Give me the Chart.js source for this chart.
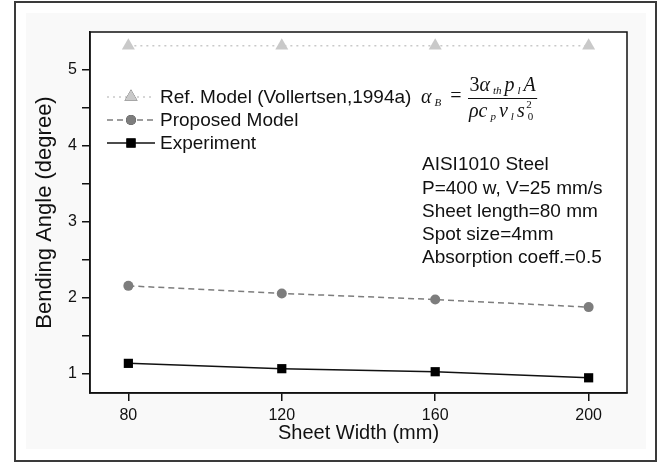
<!DOCTYPE html>
<html>
<head>
<meta charset="utf-8">
<script src="https://cdn.jsdelivr.net/npm/chart.js@4.4.0/dist/chart.umd.min.js"></script>
<style>
  html, body { margin: 0; padding: 0; background: #fff; }
  #wrap { width: 661px; height: 463px; position: relative; }
</style>
</head>
<body>
<div id="wrap"><canvas id="chart"></canvas></div>
<script>
// ===== datos =====
const sheetWidths = [80, 120, 160, 200];
const refModel = [5.32, 5.32, 5.32, 5.32];
const proposedModel = [2.16, 2.06, 1.98, 1.88];
const experiment = [1.14, 1.07, 1.03, 0.95];

const xTicks = [80, 120, 160, 200];
const yTicks = [1, 1.5, 2, 2.5, 3, 3.5, 4, 4.5, 5];

const seriesNames = ["Ref. Model (Vollertsen,1994a)", "Proposed Model", "Experiment"];
const notes = [
  "AISI1010 Steel",
  "P=400 w, V=25 mm/s",
  "Sheet length=80 mm",
  "Spot size=4mm",
  "Absorption coeff.=0.5"
];

const SANS = "'Liberation Sans', Arial, sans-serif";
const SERIF = "'Liberation Serif', 'Times New Roman', serif";

function puntos(vals) {
  return sheetWidths.map((w, i) => ({ x: w, y: vals[i] }));
}

// ===== marco exterior y caja del grafico =====
const framePlugin = {
  id: "frame",
  beforeDraw(chart) {
    const c = chart.ctx;
    c.save();
    c.fillStyle = "#fff";
    c.fillRect(0, 0, chart.width, chart.height);
    c.fillStyle = "#f9f9f9";
    c.fillRect(26, 13, 620, 436);
    const a = chart.chartArea;
    c.fillStyle = "#fff";
    c.fillRect(a.left, a.top, a.right - a.left, a.bottom - a.top);
    c.strokeStyle = "#3a3a3a";
    c.lineWidth = 2;
    c.strokeRect(15, 2, 641, 459);
    c.restore();
  },
  afterDraw(chart) {
    const c = chart.ctx;
    const a = chart.chartArea;
    c.save();
    c.strokeStyle = "#111";
    c.lineWidth = 1.5;
    c.strokeRect(a.left, a.top, a.right - a.left, a.bottom - a.top);
    c.restore();
  }
};

// ===== formula (texto con subindices) =====
const F_BIG = 20, F_SMALL = 11;

function fuentePieza(tipo) {
  const small = tipo === "s" || tipo === "z" || tipo === "p";
  const italic = tipo === "i" || tipo === "s";
  return (italic ? "italic " : "") + (small ? F_SMALL : F_BIG) + "px " + SERIF;
}

function dibujarPiezas(c, x, y, piezas, soloMedir) {
  // tipo: n normal, i italica, s subindice italico, z subindice recto, p superindice
  piezas.forEach(([t, tipo]) => {
    let dy = 0, gap = 0;
    if (tipo === "s" || tipo === "z") { dy = 5; gap = 3; }
    if (tipo === "p") dy = -8;
    c.font = fuentePieza(tipo);
    if (!soloMedir) c.fillText(t, x + gap, y + dy);
    x += c.measureText(t).width + gap * 2;
  });
  return x;
}

const textPlugin = {
  id: "textos",
  afterDraw(chart) {
    const c = chart.ctx;
    c.save();
    c.textBaseline = "middle";

    // leyenda
    const ly = [97, 120, 143];
    chart.data.datasets.forEach((ds, i) => {
      const y = ly[i];
      c.strokeStyle = ds.borderColor;
      c.lineWidth = ds.borderWidth;
      c.setLineDash(ds.borderDash || []);
      c.beginPath();
      c.moveTo(107, y);
      c.lineTo(155, y);
      c.stroke();
      c.setLineDash([]);
      Chart.helpers.drawPoint(c, {
        pointStyle: ds.pointStyle,
        radius: ds.pointRadius,
        rotation: 0,
        borderWidth: 0
      }, 131, y);
      c.fillStyle = ds.pointBackgroundColor;
      c.fill();
      c.fillStyle = "#111";
      c.font = "19px " + SANS;
      c.textAlign = "left";
      c.fillText(seriesNames[i], 160, y + 1);
    });

    // formula
    c.fillStyle = "#111";
    c.textAlign = "left";
    const x = dibujarPiezas(c, 421, 98, [["\u03B1", "i"], ["B", "s"]]);
    c.font = F_BIG + "px " + SERIF;
    c.fillText("=", x + 6, 97);
    const num = [["3", "n"], ["\u03B1", "i"], ["th", "s"], ["p", "i"], ["l", "s"], ["A", "i"]];
    const den = [["\u03C1", "i"], ["c", "i"], ["p", "s"], ["v", "i"], ["l", "s"], ["s", "i"], ["0", "z"]];
    const fx = 468;
    const wNum = dibujarPiezas(c, 0, 0, num, true);
    const wDen = dibujarPiezas(c, 0, 0, den, true);
    const wMax = Math.max(wNum, wDen) + 2;
    dibujarPiezas(c, fx + (wMax - wNum) / 2, 86, num);
    const dEnd = dibujarPiezas(c, fx + (wMax - wDen) / 2, 112, den);
    c.font = F_SMALL + "px " + SERIF;
    c.fillText("2", dEnd - 10, 105);
    c.strokeStyle = "#111";
    c.lineWidth = 1;
    c.beginPath();
    c.moveTo(fx, 98.5);
    c.lineTo(fx + wMax, 98.5);
    c.stroke();

    // notas
    c.font = "19px " + SANS;
    c.fillStyle = "#111";
    notes.forEach((t, i) => c.fillText(t, 422, 165 + i * 23.3));
    c.restore();
  }
};

const ctx = document.getElementById("chart").getContext("2d");

const chart = new Chart(ctx, {
  type: "line",
  data: {
    datasets: [
      {
        label: seriesNames[0],
        data: puntos(refModel),
        borderColor: "#c9c9c9",
        borderWidth: 1.5,
        borderDash: [2, 4],
        pointStyle: "triangle",
        pointRadius: 7.5,
        pointBackgroundColor: "#c9c9c9",
        pointBorderWidth: 0
      },
      {
        label: seriesNames[1],
        data: puntos(proposedModel),
        borderColor: "#7d7d7d",
        borderWidth: 1.5,
        borderDash: [6, 4],
        pointStyle: "circle",
        pointRadius: 5,
        pointBackgroundColor: "#7d7d7d",
        pointBorderWidth: 0
      },
      {
        label: seriesNames[2],
        data: puntos(experiment),
        borderColor: "#111",
        borderWidth: 1.5,
        pointStyle: "rect",
        pointRadius: 6.5,
        pointBackgroundColor: "#000",
        pointBorderWidth: 0
      }
    ]
  },
  options: {
    responsive: true,
    maintainAspectRatio: false,
    animation: false,
    layout: { padding: { left: 0, top: 32, right: 34, bottom: 0 } },
    plugins: { legend: { display: false }, tooltip: { enabled: false } },
    scales: {
      x: {
        type: "linear",
        min: 70,
        max: 210,
        afterFit: s => { s.height = 70; },
        afterBuildTicks: s => { s.ticks = xTicks.map(v => ({ value: v })); },
        grid: { drawOnChartArea: false, drawTicks: true, tickLength: 8, color: "#111", lineWidth: 1.5 },
        border: { color: "#111", width: 1.5 },
        ticks: { color: "#111", font: { family: SANS, size: 16 }, padding: 5, maxRotation: 0 },
        title: { display: true, text: "Sheet Width (mm)", color: "#111", font: { family: SANS, size: 20 }, padding: { bottom: 18 } }
      },
      y: {
        min: 0.75,
        max: 5.5,
        afterFit: s => { s.width = 90; },
        afterBuildTicks: s => { s.ticks = yTicks.map(v => ({ value: v })); },
        grid: { drawOnChartArea: false, drawTicks: true, tickLength: 8, color: "#111", lineWidth: 1.5 },
        border: { color: "#111", width: 1.5 },
        ticks: {
          color: "#111",
          font: { family: SANS, size: 16 },
          padding: 5,
          callback: v => (Number.isInteger(v) ? String(v) : "")
        },
        title: { display: true, text: "Bending Angle (degree)", color: "#111", font: { family: SANS, size: 22 }, padding: { top: 32 } }
      }
    }
  },
  plugins: [framePlugin, textPlugin]
});
</script>
</body>
</html>
